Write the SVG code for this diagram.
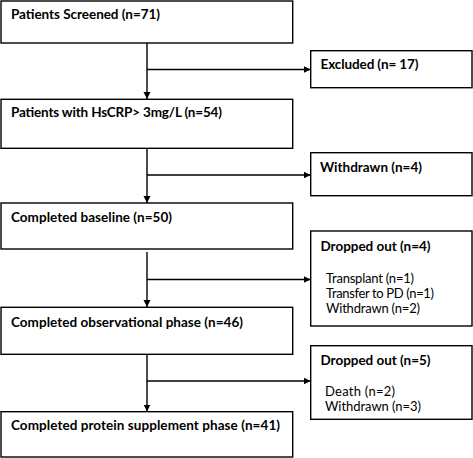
<svg xmlns="http://www.w3.org/2000/svg" width="473" height="458" viewBox="0 0 473 458">
<defs>
<marker id="ah" markerWidth="8" markerHeight="8" refX="7" refY="4" orient="auto" markerUnits="userSpaceOnUse">
<path d="M0,0.5 L7,4 L0,7.5 Z" fill="#000"/>
</marker>
<style>
rect{fill:#fff;stroke:#000;stroke-width:1.4}
.c line{stroke:#000;stroke-width:1.4}
.b{font-family:Lato,"Liberation Sans",sans-serif;font-weight:bold;font-size:13.5px;fill:#000}
.r{font-family:Lato,"Liberation Sans",sans-serif;font-size:13px;fill:#000}
</style>
</defs>
<rect x="0" y="0" width="473" height="458" style="stroke:none"/>
<g class="c">
<line x1="147" y1="43" x2="147" y2="99" marker-end="url(#ah)"/>
<line x1="147" y1="69.5" x2="310.5" y2="69.5" marker-end="url(#ah)"/>
<line x1="147" y1="148" x2="147" y2="203" marker-end="url(#ah)"/>
<line x1="147" y1="175" x2="310.5" y2="175" marker-end="url(#ah)"/>
<line x1="147" y1="252" x2="147" y2="307" marker-end="url(#ah)"/>
<line x1="147" y1="279.5" x2="310.5" y2="279.5" marker-end="url(#ah)"/>
<line x1="147" y1="354.5" x2="147" y2="411.5" marker-end="url(#ah)"/>
<line x1="147" y1="381" x2="310.5" y2="381" marker-end="url(#ah)"/>
</g>
<g id="screened"><rect x="1" y="1" width="291.7" height="42"/><text class="b" x="11" y="19" textLength="149">Patients Screened (n=71)</text></g>
<g id="excluded"><rect x="310.7" y="50.7" width="161.3" height="37"/><text class="b" x="320.5" y="69" textLength="98">Excluded (n= 17)</text></g>
<g id="hscrp"><rect x="1" y="99.3" width="291.7" height="49"/><text class="b" x="11" y="117" textLength="211">Patients with HsCRP&gt; 3mg/L (n=54)</text></g>
<g id="withdrawn"><rect x="310.7" y="152.7" width="161.3" height="43"/><text class="b" x="320" y="171.5" textLength="102">Withdrawn (n=4)</text></g>
<g id="baseline"><rect x="1" y="203" width="291.7" height="46"/><text class="b" x="11" y="222" textLength="161">Completed baseline (n=50)</text></g>
<g id="dropped4"><rect x="310.7" y="231" width="161.3" height="95"/><text class="b" x="320.5" y="250.5" textLength="110">Dropped out (n=4)</text><text class="r" x="326" y="283.3" textLength="88">Transplant (n=1)</text><text class="r" x="326" y="298.3" textLength="108">Transfer to PD (n=1)</text><text class="r" x="326" y="313.3" textLength="94">Withdrawn (n=2)</text></g>
<g id="observational"><rect x="1" y="307.3" width="291.7" height="47"/><text class="b" x="11" y="327" textLength="232">Completed observational phase (n=46)</text></g>
<g id="dropped5"><rect x="310.7" y="345.7" width="161.3" height="73.6"/><text class="b" x="320.5" y="365" textLength="110">Dropped out (n=5)</text><text class="r" x="325" y="396" textLength="70">Death (n=2)</text><text class="r" x="325" y="411" textLength="96">Withdrawn (n=3)</text></g>
<g id="protein"><rect x="1" y="411.7" width="291.7" height="45.3"/><text class="b" x="11" y="430" textLength="269">Completed protein supplement phase (n=41)</text></g>
</svg>
